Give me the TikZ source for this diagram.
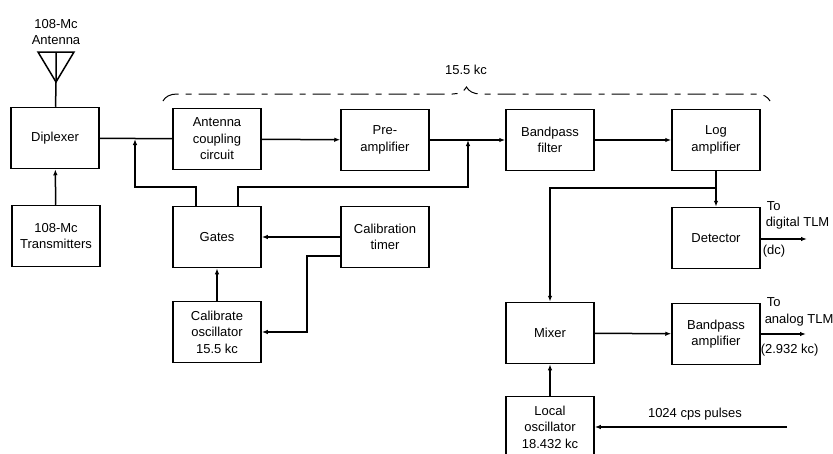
\documentclass[tikz,border=0pt]{standalone}
\usepackage{fontspec}
\setmainfont{Liberation Sans}
\usetikzlibrary{arrows.meta,calc,positioning,decorations.pathreplacing}

\begin{document}
\begin{tikzpicture}[x=1pt,y=-1pt,line width=1.5pt,
    box/.style={draw,minimum width=88pt,minimum height=61pt,inner sep=1pt,
      align=center,font=\fontsize{13}{16.5}\selectfont},
    lbl/.style={inner sep=0pt,align=left,font=\fontsize{13}{16.5}\selectfont},
    sig/.style={-{Latex[length=6pt,width=4.5pt]}}]
    \useasboundingbox (0,0) rectangle (833,453);
    \node[box] (dipl) at (55,138) {Diplexer};
    \node[box] (trans) at (56,236) {108-Mc\\Transmitters};
    \node[box] (antcpl) at (217,139) {Antenna\\coupling\\circuit};
    \node[box] (preamp) at (385,140) {Pre-\\amplifier};
    \node[box] (bpfilt) at (550,140) {Bandpass\\filter};
    \node[box] (logamp) at (716,140) {Log\\amplifier};
    \node[box] (gates) at (217,237) {Gates};
    \node[box] (caltimer) at (385,237) {Calibration\\timer};
    \node[box] (calosc) at (217,332) {Calibrate\\oscillator\\15.5 kc};
    \node[box] (detect) at (716,238) {Detector};
    \node[box] (mixer) at (550,333) {Mixer};
    \node[box] (bpamp) at (716,334) {Bandpass\\amplifier};
    \node[box] (locosc) at (550,427) {Local\\oscillator\\18.432 kc};
    \coordinate (apex) at (56,82);
    \draw (38,52) -- (74,52) -- (apex) -- cycle;
    \draw (56,52) -- (apex) -- (dipl);
    \node[lbl,align=center] (antlbl) at (56,32) {108-Mc\\Antenna};
    \draw (dipl) -- (antcpl);
    \draw[sig] (antcpl) -- (preamp);
    \draw[sig] (preamp) -- (bpfilt);
    \draw[sig] (bpfilt) -- (logamp);
    \draw[sig] (trans) -- (dipl);
    \coordinate (fbl) at (135,139);
    \coordinate (fbr) at (468,140);
    \draw[sig] ([xshift=-21pt]gates.north) -- ++(0,-19) -| (fbl);
    \draw[sig] ([xshift=21pt]gates.north) -- ++(0,-19) -| (fbr);
    \draw[sig] (caltimer) -- (gates);
    \draw[sig] ([yshift=-19pt]caltimer.west) -| ([xshift=45pt]calosc.east) -- (calosc.east);
    \draw[sig] (calosc) -- (gates);
    \draw[sig] (logamp) -- (detect);
    \coordinate (jr) at (716,188);
    \draw[sig] (jr) -| (mixer);
    \draw[sig] (mixer) -- (bpamp);
    \draw[sig] (locosc) -- (mixer);
    \coordinate (pulsein) at (787,427);
    \draw[sig] (pulsein) -- (locosc);
    \node[lbl] (pulselbl) at (695,414) {1024 cps pulses};
    \coordinate (digout) at (807,239);
    \draw[sig] (detect.east |- digout) -- (digout);
    \node[lbl,anchor=west] (digto) at (766,206) {To};
    \node[lbl,anchor=west] (digtlm) at (765,223) {digital TLM};
    \node[lbl,anchor=west] (digdc) at (762,251) {(dc)};
    \coordinate (anaout) at (806,334);
    \draw[sig] (bpamp) -- (anaout);
    \node[lbl,anchor=west] (anato) at (766,302) {To};
    \node[lbl,anchor=west] (anatlm) at (764,320) {analog TLM};
    \node[lbl,anchor=west] (anakc) at (760,350) {(2.932 kc)};
    \draw[line width=1pt,dash pattern=on 18pt off 7pt on 6pt off 7pt,
      decorate,decoration={brace,amplitude=14pt}] (163,101) -- (770,101);
    \node[lbl] (bracelbl) at (466,70) {15.5 kc};
  \end{tikzpicture}
\end{document}
